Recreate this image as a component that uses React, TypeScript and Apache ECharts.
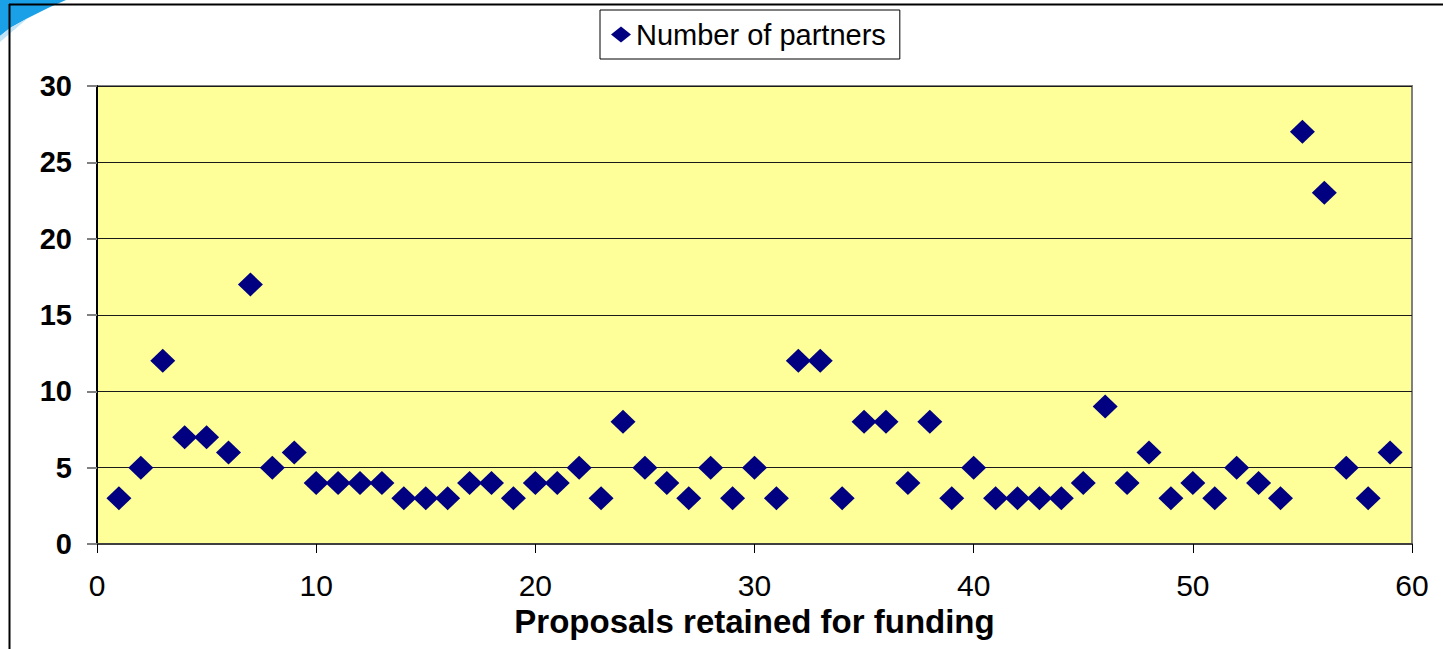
import React, { useEffect, useRef } from "react";
import * as echarts from "echarts";

const seriesName = "Number of partners";
const xAxisTitle = "Proposals retained for funding";
const proposals = [
  1, 2, 3, 4, 5, 6, 7, 8, 9, 10, 11, 12, 13, 14, 15, 16, 17, 18, 19, 20,
  21, 22, 23, 24, 25, 26, 27, 28, 29, 30, 31, 32, 33, 34, 35, 36, 37, 38, 39, 40,
  41, 42, 43, 44, 45, 46, 47, 48, 49, 50, 51, 52, 53, 54, 55, 56, 57, 58, 59,
];
const partners = [
  3, 5, 12, 7, 7, 6, 17, 5, 6, 4, 4, 4, 4, 3, 3, 3, 4, 4, 3, 4,
  4, 5, 3, 8, 5, 4, 3, 5, 3, 5, 3, 12, 12, 3, 8, 8, 4, 8, 3, 5,
  3, 3, 3, 3, 4, 9, 4, 6, 3, 4, 3, 5, 4, 3, 27, 23, 5, 3, 6,
];

export default function App() {
  const ref = useRef<HTMLDivElement>(null);
  useEffect(() => {
    if (!ref.current) return;
    const chart = echarts.init(ref.current, undefined, { renderer: "svg" });
    const font = "'Liberation Sans', Arial, sans-serif";
    chart.setOption({
      animation: false,
      backgroundColor: "#ffffff",
      textStyle: { fontFamily: font },
      legend: {
        left: 600,
        top: 10,
        padding: [10, 14, 10, 11],
        borderColor: "#000",
        borderWidth: 1,
        itemWidth: 20,
        itemHeight: 16,
        icon: "diamond",
        textStyle: { fontSize: 29, color: "#000", fontFamily: font },
        data: [seriesName],
      },
      grid: {
        left: 97,
        right: 31,
        top: 86,
        bottom: 105,
        show: true,
        backgroundColor: "#ffff99",
        borderColor: "#808080",
        borderWidth: 2,
      },
      xAxis: {
        type: "value",
        min: 0,
        max: 60,
        interval: 10,
        name: xAxisTitle,
        nameLocation: "middle",
        nameGap: 59,
        nameTextStyle: { fontSize: 33, fontWeight: "bold", color: "#000", fontFamily: font },
        axisLine: { show: true, lineStyle: { color: "#404040", width: 2 } },
        axisTick: { show: true, length: 9, lineStyle: { color: "#000", width: 1 } },
        axisLabel: { fontSize: 30, color: "#000", margin: 26, fontFamily: font },
        splitLine: { show: false },
      },
      yAxis: {
        type: "value",
        min: 0,
        max: 30,
        interval: 5,
        axisLine: { show: true, lineStyle: { color: "#000", width: 2 } },
        axisTick: { show: true, length: 10, lineStyle: { color: "#808080", width: 2 } },
        axisLabel: { fontSize: 29, fontWeight: "bold", color: "#000", margin: 25, fontFamily: font },
        splitLine: { show: true, lineStyle: { color: "#1a1a1a", width: 1 } },
      },
      series: [
        {
          name: seriesName,
          type: "scatter",
          symbol: "diamond",
          symbolSize: [25, 24],
          itemStyle: { color: "#000080", opacity: 1 },
          data: proposals.map((p, i) => [p, partners[i]]),
          z: 5,
        },
      ],
      graphic: [
        {
          type: "polygon",
          shape: { points: [[0, 0], [66, 0], [48, 8], [28, 18], [10, 28], [0, 36], [0, 0]] },
          style: { fill: "#1aa0e6" },
          z: 1,
        },
        {
          type: "polygon",
          shape: { points: [[0, 36], [10, 28], [28, 18], [14, 30], [0, 42]] },
          style: { fill: "#bfe3f7" },
          z: 1,
        },
        {
          type: "line",
          shape: { x1: 9, y1: 4.5, x2: 1443, y2: 4.5 },
          style: { stroke: "#000", lineWidth: 2 },
          z: 2,
        },
        {
          type: "line",
          shape: { x1: 9.5, y1: 4, x2: 9.5, y2: 649 },
          style: { stroke: "#000", lineWidth: 2 },
          z: 2,
        },
      ],
    });
    return () => chart.dispose();
  }, []);
  return (
    <div
      ref={ref}
      style={{ position: "absolute", left: 0, top: 0, width: 1443, height: 649 }}
    />
  );
}
